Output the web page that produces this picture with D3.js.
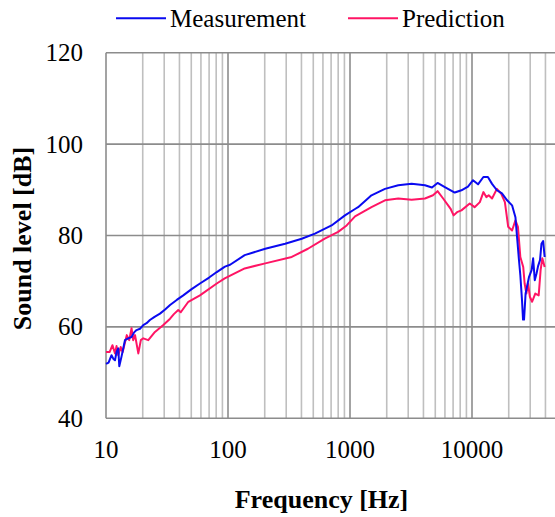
<!DOCTYPE html>
<html>
<head>
<meta charset="utf-8">
<script src="https://cdn.jsdelivr.net/npm/d3@7"></script>
<style>
  html, body { margin: 0; padding: 0; background: #fff; }
  svg { display: block; }
</style>
</head>
<body>
<svg id="chart" width="555" height="517"></svg>
<script>
// Frequency response: measured vs predicted sound level
const measFreq = [10, 10.5, 11.1, 11.5, 11.85, 12.2, 12.6, 12.85, 13.4, 13.9, 14.3, 15.2, 16.2, 17.0, 17.8, 19.0, 20.2, 21.5, 22.9, 25, 27.7, 30.5, 33.5, 38, 43, 50, 58.9, 70, 80.9, 94.4, 104, 137, 202, 294, 402, 516, 706, 909, 1100, 1165, 1500, 1935, 2487, 3200, 4116, 4700, 5220, 5990, 7220, 8190, 9270, 10200, 11200, 12400, 13500, 14600, 16000, 17600, 19400, 21300, 22700, 23400, 24200, 24900, 25700, 26200, 26700, 27500, 29300, 30800, 31700, 32700, 33800, 34800, 36100, 37100, 38300, 39400];
const measLevel = [51.9, 52.2, 53.8, 53.0, 52.7, 54.5, 55.3, 51.4, 53.5, 55.5, 57.1, 57.5, 57.8, 58.8, 59.3, 59.6, 60.4, 60.8, 61.5, 62.2, 62.9, 63.8, 64.8, 65.9, 66.9, 68.2, 69.5, 70.8, 72.0, 73.2, 73.6, 75.7, 77.1, 78.2, 79.3, 80.4, 82.2, 84.4, 85.8, 86.2, 88.8, 90.2, 91.0, 91.3, 91.0, 90.5, 91.5, 90.6, 89.4, 89.9, 90.7, 92.1, 91.2, 92.8, 92.8, 91.3, 89.9, 89.2, 87.7, 86.6, 84.0, 79.7, 75.0, 71.3, 65.8, 61.6, 61.6, 67.3, 70.9, 72.4, 75.0, 70.2, 71.7, 73.3, 74.6, 78.2, 78.8, 75.3];

const predFreq = [10, 10.7, 11.3, 11.85, 12.2, 12.6, 13.2, 13.7, 14.8, 15.5, 16.2, 16.7, 17.3, 18.4, 19.3, 20.2, 22.2, 25.2, 29.5, 33.5, 36, 39.1, 41, 47.3, 58.9, 80.9, 94, 137, 202, 333, 452, 621, 799, 939, 1100, 1500, 1935, 2487, 3200, 4116, 4790, 5220, 5800, 6660, 7070, 7540, 8190, 9580, 10500, 11600, 12400, 13100, 13700, 14600, 16000, 17300, 18600, 19800, 21300, 22700, 23800, 24900, 26300, 27000, 27900, 28800, 29800, 31100, 33000, 35200, 36500, 37700, 39400];
const predLevel = [54.5, 54.5, 56.0, 54.2, 55.8, 53.8, 55.6, 54.5, 58.2, 57.1, 59.7, 57.1, 58.2, 54.2, 57.1, 57.5, 57.1, 58.9, 60.4, 61.8, 62.8, 63.7, 63.2, 65.5, 66.9, 69.5, 70.6, 72.8, 73.9, 75.3, 77.1, 79.3, 80.8, 82.2, 84.2, 86.2, 87.7, 88.1, 87.8, 88.1, 88.8, 89.7, 88.1, 85.9, 84.4, 85.1, 85.5, 87.0, 86.2, 87.3, 89.5, 88.4, 88.8, 88.1, 90.2, 89.2, 87.3, 81.9, 81.1, 83.3, 81.9, 75.3, 73.1, 69.5, 67.3, 69.5, 66.6, 65.5, 67.3, 66.9, 72.4, 75.0, 73.1];

const yTicks = [40, 60, 80, 100, 120];
const xMajorTicks = [10, 100, 1000, 10000];
const xTickLabels = ["10", "100", "1000", "10000"];
const seriesNames = ["Measurement", "Prediction"];
const seriesColors = ["#0a0af0", "#ff1464"];

const svg = d3.select("#chart");
const W = 555;
const plotLeft = 106, plotBottom = 418.3, plotTop = 52.7;
const serif = "'Liberation Serif', 'Times New Roman', serif";

const x = d3.scaleLog().domain([10, 100000]).range([plotLeft, plotLeft + 488]);
const y = d3.scaleLinear().domain([40, 120]).range([plotBottom, plotTop]);

// minor grid (2..9 of each decade)
const minor = [];
for (let d = 10; d <= 10000; d *= 10) {
  for (let k = 2; k <= 9; k++) minor.push(d * k);
}
const grid = svg.append("g");
grid.selectAll("line.minor").data(minor.filter(f => x(f) < W)).enter()
  .append("line").attr("class", "minor")
  .attr("x1", d => x(d)).attr("x2", d => x(d))
  .attr("y1", plotTop).attr("y2", plotBottom)
  .attr("stroke", "#bfbfbf").attr("stroke-width", 1.6);

grid.selectAll("line.major").data(xMajorTicks).enter()
  .append("line").attr("class", "major")
  .attr("x1", d => x(d)).attr("x2", d => x(d))
  .attr("y1", plotTop).attr("y2", plotBottom)
  .attr("stroke", "#8c8c8c").attr("stroke-width", 1.6);

grid.selectAll("line.h").data(yTicks).enter()
  .append("line").attr("class", "h")
  .attr("x1", plotLeft).attr("x2", W)
  .attr("y1", d => y(d)).attr("y2", d => y(d))
  .attr("stroke", "#8c8c8c").attr("stroke-width", 1.6);

// y tick labels
svg.append("g").selectAll("text").data(yTicks).enter()
  .append("text")
  .attr("x", 83).attr("y", d => y(d))
  .attr("text-anchor", "end").attr("dominant-baseline", "central")
  .attr("font-family", serif).attr("font-size", 25)
  .text(d => d);

// x tick labels
svg.append("g").selectAll("text").data(xMajorTicks).enter()
  .append("text")
  .attr("x", d => x(d)).attr("y", 458)
  .attr("text-anchor", "middle")
  .attr("font-family", serif).attr("font-size", 25)
  .text((d, i) => xTickLabels[i]);

// series lines
const line = d3.line().x(d => x(d[0])).y(d => y(d[1]));
const series = [
  d3.zip(predFreq, predLevel),
  d3.zip(measFreq, measLevel)
];
svg.append("path").datum(series[0])
  .attr("d", line).attr("fill", "none")
  .attr("stroke", seriesColors[1]).attr("stroke-width", 2).attr("stroke-linejoin", "round");
svg.append("path").datum(series[1])
  .attr("d", line).attr("fill", "none")
  .attr("stroke", seriesColors[0]).attr("stroke-width", 2).attr("stroke-linejoin", "round");

// axis titles
svg.append("text")
  .attr("x", 321.5).attr("y", 508)
  .attr("text-anchor", "middle")
  .attr("font-family", serif).attr("font-size", 26).attr("font-weight", "bold")
  .text("Frequency [Hz]");

svg.append("text")
  .attr("transform", "translate(31,238.5) rotate(-90)")
  .attr("text-anchor", "middle")
  .attr("font-family", serif).attr("font-size", 26).attr("font-weight", "bold")
  .text("Sound level [dB]");

// legend
const legendX = [116, 348];
const legend = svg.append("g");
seriesNames.forEach((name, i) => {
  legend.append("line")
    .attr("x1", legendX[i]).attr("x2", legendX[i] + 50)
    .attr("y1", 18.3).attr("y2", 18.3)
    .attr("stroke", seriesColors[i]).attr("stroke-width", 2);
  legend.append("text")
    .attr("x", legendX[i] + 54).attr("y", 27)
    .attr("font-family", serif).attr("font-size", 25)
    .text(name);
});
</script>
</body>
</html>
